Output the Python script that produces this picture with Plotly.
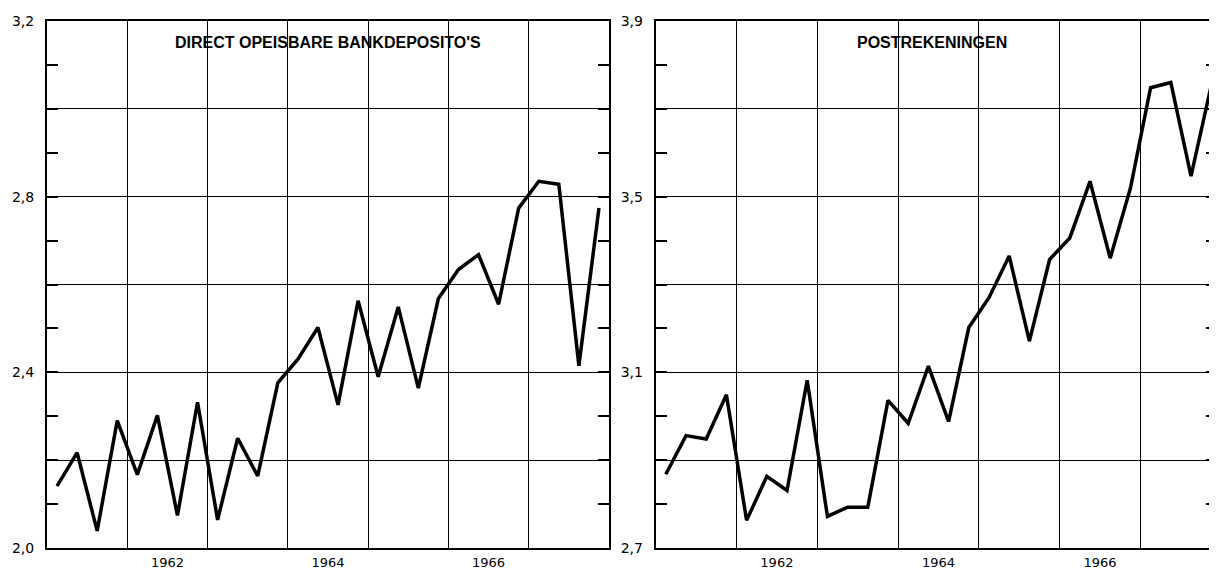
import plotly.graph_objects as go

# quarterly observations, 1961 Q1 .. 1967 Q4 (placed mid-quarter)
years = list(range(1961, 1968))
quarter_pos = [y + (q - 0.5) / 4 for y in years for q in range(1, 5)]

bank_deposits = [2.141, 2.217, 2.039, 2.290, 2.167, 2.302, 2.074, 2.332,
                 2.064, 2.250, 2.164, 2.376, 2.430, 2.502, 2.326, 2.563,
                 2.390, 2.549, 2.364, 2.568, 2.634, 2.668, 2.555, 2.774,
                 2.835, 2.828, 2.415, 2.774]
post_accounts = [2.868, 2.956, 2.948, 3.049, 2.763, 2.863, 2.831, 3.082,
                 2.772, 2.793, 2.793, 3.036, 2.984, 3.114, 2.988, 3.202,
                 3.270, 3.365, 3.171, 3.357, 3.406, 3.535, 3.360, 3.519,
                 3.748, 3.760, 3.547, 3.753]

year_tick_vals = [1962.5, 1964.5, 1966.5]
year_tick_text = ["1962", "1964", "1966"]

left_ticks = [round(2.0 + 0.1 * i, 1) for i in range(13)]
left_labels = {2.0: "2,0", 2.4: "2,4", 2.8: "2,8", 3.2: "3,2"}
right_ticks = [round(2.7 + 0.1 * i, 1) for i in range(13)]
right_labels = {2.7: "2,7", 3.1: "3,1", 3.5: "3,5", 3.9: "3,9"}

titles = ["DIRECT OPEISBARE BANKDEPOSITO'S", "POSTREKENINGEN"]

# the page body adds an 8 px offset; the figure fills the rest of the window
OFF = 8
W, H = 1217 - OFF, 573 - OFF
TOP, BOTTOM = 21 - OFF, 548 - OFF
fig = go.Figure()

fig.add_trace(go.Scatter(x=quarter_pos, y=bank_deposits, mode="lines",
                         line=dict(color="black", width=3.5),
                         xaxis="x", yaxis="y", showlegend=False,
                         hoverinfo="skip"))
fig.add_trace(go.Scatter(x=quarter_pos, y=post_accounts, mode="lines",
                         line=dict(color="black", width=3.5),
                         xaxis="x2", yaxis="y2", showlegend=False,
                         hoverinfo="skip"))


def xaxis_cfg(domain, rng):
    return dict(domain=domain, range=rng, tickmode="array",
                tickvals=year_tick_vals, ticktext=year_tick_text,
                ticks="", showgrid=False, zeroline=False, automargin=False,
                showline=True, linecolor="black", linewidth=2, mirror=True,
                ticklabelstandoff=1,
                tickfont=dict(family="DejaVu Sans", size=13, color="black"),
                minor=dict(tick0=1961, dtick=1, showgrid=True,
                           gridcolor="black", gridwidth=1.4, ticks=""))


def yaxis_cfg(anchor, rng, ticks, labels, base):
    return dict(anchor=anchor, domain=[1 - BOTTOM / H, 1 - TOP / H], range=rng,
                tickmode="array", tickvals=ticks,
                ticktext=[labels.get(t, "") for t in ticks],
                ticks="inside", ticklen=11, tickwidth=1.5, tickcolor="black",
                ticklabelstandoff=8, automargin=False,
                showgrid=False, zeroline=False,
                showline=True, linecolor="black", linewidth=2, mirror="ticks",
                tickfont=dict(family="DejaVu Sans", size=14, color="black"),
                minor=dict(tick0=base, dtick=0.2, showgrid=True,
                           gridcolor="black", gridwidth=1.4, ticks=""))


left_dom = [(47 - OFF) / W, (609 - OFF) / W]
right_dom = [(655.7 - OFF) / W, 1.0]
right_end = 1961 + (W - (655.7 - OFF)) / 80.8

fig.update_layout(
    width=W, height=H,
    margin=dict(l=0, r=0, t=0, b=0, autoexpand=False),
    paper_bgcolor="white", plot_bgcolor="white",
    xaxis=dict(anchor="y", **xaxis_cfg(left_dom, [1961, 1968])),
    yaxis=yaxis_cfg("x", [2.0, 3.2], left_ticks, left_labels, 2.0),
    xaxis2=dict(anchor="y2", **xaxis_cfg(right_dom, [1961, right_end])),
    yaxis2=yaxis_cfg("x2", [2.7, 3.9], right_ticks, right_labels, 2.7),
    annotations=[
        dict(text=titles[0], xref="x domain", yref="paper", x=0.5,
             y=1 - (42 - OFF) / H,
             xanchor="center", yanchor="middle", showarrow=False,
             font=dict(family="Liberation Sans", size=16, color="black", weight="bold")),
        dict(text=titles[1], xref="x2 domain", yref="paper",
             x=(932 - 655.7) / (W - (655.7 - OFF)), y=1 - (43 - OFF) / H,
             xanchor="center", yanchor="middle", showarrow=False,
             font=dict(family="Liberation Sans", size=16, color="black", weight="bold")),
    ],
)

fig.write_html("out.html")
